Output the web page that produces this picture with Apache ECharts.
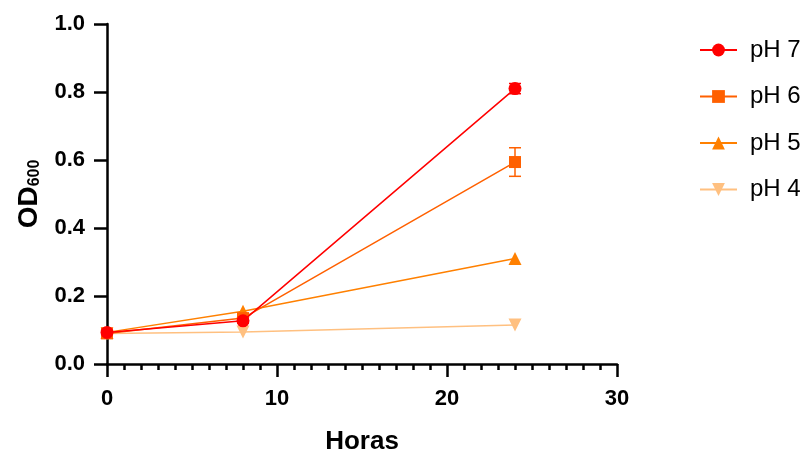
<!DOCTYPE html>
<html><head><meta charset="utf-8">
<script src="https://cdn.jsdelivr.net/npm/echarts@6/dist/echarts.min.js"></script>
<style>html,body{margin:0;padding:0;background:#fff}#c{width:810px;height:449px}</style>
</head><body><div id="c"></div>
<script>
const hours = [0, 8, 24];
const seriesNames = ['pH 7', 'pH 6', 'pH 5', 'pH 4'];
const ph7 = [0.093, 0.127, 0.81];
const ph6 = [0.090, 0.135, 0.594];
const ph5 = [0.093, 0.155, 0.31];
const ph4 = [0.090, 0.094, 0.115];
const ph7err = [0, 0.005, 0.015];
const ph6err = [0, 0.005, 0.042];
const ph5err = [0, 0, 0];
const ph4err = [0, 0, 0];
const xTicks = [0, 10, 20, 30];
const yTicks = [0, 0.2, 0.4, 0.6, 0.8, 1.0];

const FONT = 'Liberation Sans';
const colors = ['#FF0000', '#FF6000', '#FF8000', '#FFC080'];
const symbols = ['circle', 'rect', 'triangle', 'path://M0,0 L10,0 L5,10 Z'];
const sizes = [13, 12, 13, 13];
const values = [ph7, ph6, ph5, ph4];
const errs = [ph7err, ph6err, ph5err, ph4err];

const chart = echarts.init(document.getElementById('c'));
const series = [];
values.forEach((vals, i) => {
  series.push({
    name: seriesNames[i], type: 'line', data: hours.map((h, j) => [h, vals[j]]),
    symbol: symbols[i], symbolSize: sizes[i], z: 10 - i,
    lineStyle: { color: colors[i], width: 1.5 },
    itemStyle: { color: colors[i] }
  });
  series.push({
    type: 'custom', name: seriesNames[i] + ' err', z: 10 - i,
    data: hours.map((h, j) => [h, vals[j] - errs[i][j], vals[j] + errs[i][j]]),
    renderItem: function (params, api) {
      const x = api.value(0);
      const lo = api.coord([x, api.value(1)]);
      const hi = api.coord([x, api.value(2)]);
      if (Math.abs(hi[1] - lo[1]) < 1) return null;
      const w = 6;
      const st = { stroke: colors[i], lineWidth: 1.5 };
      return { type: 'group', children: [
        { type: 'line', shape: { x1: lo[0], y1: lo[1], x2: hi[0], y2: hi[1] }, style: st },
        { type: 'line', shape: { x1: lo[0] - w, y1: lo[1], x2: lo[0] + w, y2: lo[1] }, style: st },
        { type: 'line', shape: { x1: hi[0] - w, y1: hi[1], x2: hi[0] + w, y2: hi[1] }, style: st }
      ]};
    }
  });
});

chart.setOption({
  animation: false,
  textStyle: { fontFamily: FONT },
  grid: { left: 107, right: 193, top: 24, bottom: 85, containLabel: false, outerBoundsMode: 'none' },
  legend: {
    data: seriesNames,
    orient: 'vertical', left: 694, top: 33, itemGap: 22.5, itemWidth: 37, itemHeight: 16,
    textStyle: { fontSize: 24, fontFamily: FONT, color: '#000', padding: [0, 0, 0, 8] }
  },
  xAxis: {
    type: 'value', min: xTicks[0], max: xTicks[xTicks.length - 1], interval: 10,
    name: 'Horas', nameLocation: 'middle', nameGap: 65,
    nameTextStyle: { fontSize: 26, fontWeight: 'bold', color: '#000', fontFamily: FONT },
    axisLine: { onZero: false, lineStyle: { color: '#000', width: 2.5 } },
    axisTick: { show: true, length: 13, lineStyle: { color: '#000', width: 2.5 } },
    minorTick: { show: true, splitNumber: 10, length: 6, lineStyle: { color: '#000', width: 2.5 } },
    axisLabel: { fontSize: 22, fontWeight: 'bold', color: '#000', margin: 24, fontFamily: FONT },
    splitLine: { show: false }
  },
  yAxis: {
    type: 'value', min: yTicks[0], max: yTicks[yTicks.length - 1], interval: 0.2,
    name: '{a|OD}{b|600}', nameLocation: 'middle', nameGap: 64, nameRotate: 90,
    nameTextStyle: { fontFamily: FONT, rich: {
      a: { fontSize: 28, fontWeight: 'bold', color: '#000', fontFamily: FONT },
      b: { fontSize: 16, fontWeight: 'bold', color: '#000', fontFamily: FONT, verticalAlign: 'bottom', padding: [12, 0, 0, 0] }
    } },
    axisLine: { show: true, lineStyle: { color: '#000', width: 2.5 } },
    axisTick: { show: true, length: 13, lineStyle: { color: '#000', width: 2.5 } },
    axisLabel: { fontSize: 22, fontWeight: 'bold', color: '#000', margin: 22, fontFamily: FONT, formatter: v => v.toFixed(1) },
    splitLine: { show: false }
  },
  series: series
});
</script></body></html>
